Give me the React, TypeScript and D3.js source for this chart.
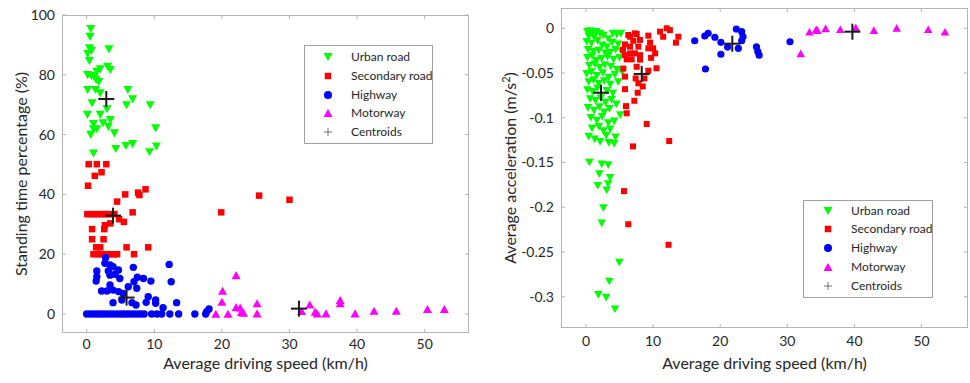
import React from "react";
import * as d3 from "d3";

type Pt = [number, number];

// Standing time percentage (%) vs average driving speed (km/h)
const urbanStanding: Pt[] = [
  [0.6, 95.3], [0.5, 92.7], [0.4, 88.9], [0.7, 88], [3.3, 88.5], [0.15, 86.9], [0.4, 84.6],
  [3.1, 82.7], [3.5, 81.6], [2.0, 81.8], [1.5, 81], [0.15, 79.9], [0.7, 79.6], [1.1, 79.2],
  [1.4, 78.3], [1.8, 77.6], [0.15, 74.9], [1.3, 74.9], [2.0, 73.8], [6.1, 74.9], [6.8, 71.8],
  [0.8, 70.5], [5.9, 69.8], [9.4, 69.8], [3.0, 68.5], [0.1, 66.6], [2.0, 66.6], [3.5, 64.9],
  [1.0, 63.5], [2.4, 63.8], [3.2, 62.6], [1.5, 61.8], [1.0, 61.8], [4.1, 60.4], [0.6, 59.9],
  [10.2, 62.1], [4.3, 55.2], [5.8, 56.2], [6.8, 56.8], [9.3, 54.1], [10.3, 56], [1.0, 53.7],
];
const secondaryStanding: Pt[] = [
  [0.3, 50.1], [1.5, 50.1], [2.9, 50.1], [1.2, 46.2], [2.2, 47.4], [0.2, 42.9], [5.7, 40.0],
  [7.6, 40.6], [7.8, 39.8], [8.7, 41.7], [4.5, 37.6],
  [0.1, 33.4], [0.6, 33.4], [1.1, 33.4], [1.6, 33.4], [2.1, 33.4], [2.6, 33.4], [3.1, 33.4],
  [3.6, 33.4], [4.1, 33.4],
  [6.8, 34.0], [4.8, 31.7], [5.5, 30.8], [3.5, 30.3], [2.7, 29.7], [2.6, 28.4], [0.8, 28.4],
  [0.8, 25.0], [2.5, 25.0], [1.4, 22.3], [2.0, 22.3], [5.9, 22.3], [9.1, 22.3],
  [1.0, 20], [1.5, 20], [2.0, 20], [2.5, 20], [3.0, 20], [3.5, 20], [4.0, 20], [4.5, 20], [7.0, 20.0],
  [19.9, 34.0], [25.5, 39.6], [30.0, 38.2],
];
const highwayStanding: Pt[] = [
  [0, 0], [0.5, 0], [1, 0], [1.5, 0], [2, 0], [2.5, 0], [3, 0], [3.5, 0], [4, 0], [4.5, 0],
  [5, 0], [5.5, 0], [6, 0], [6.5, 0], [7, 0], [7.5, 0], [8, 0], [8.5, 0], [9.6, 0], [10.4, 0],
  [11.1, 0], [12.3, 0], [13.6, 0], [16.0, 0], [17.6, 0], [17.75, 0.8], [18.1, 1.7],
  [2.8, 18.8], [2.7, 17.0], [3.45, 16.4], [3.9, 15.8], [1.5, 14.4], [3.2, 14.4], [4.7, 14.7],
  [6.9, 15.6], [12.2, 16.6], [3.45, 13.0], [4.2, 13.3], [1.5, 12.5], [4.9, 11.9], [7.5, 12.3],
  [8.4, 11.9], [1.4, 11.0], [7.0, 10.8], [9.5, 11.0], [12.5, 10.8], [3.45, 9.7], [7.4, 8.6],
  [2.2, 7.7], [3.0, 7.7], [3.9, 8.0], [4.7, 7.5], [6.15, 9.1], [3.9, 3.8], [5.2, 4.7],
  [6.7, 3.8], [7.3, 3.0], [8.8, 3.9], [9.1, 5.8], [10.2, 4.7], [10.2, 3.6], [11.3, 2.1],
  [13.3, 3.8], [5.4, 6.9],
];
const motorwayStanding: Pt[] = [
  [22.1, 13.0], [20.1, 7.8], [20.0, 4.1], [19.1, 0.1], [20.9, 0.1], [22.1, 2.3], [22.7, 2.2],
  [22.9, 0.7], [23.2, 0.4], [25.2, 3.6], [25.2, 0.2], [31.8, 1.0], [33.0, 3.2], [33.8, 0.8],
  [34.1, 0.2], [35.4, 0.2], [37.5, 4.7], [37.5, 3.6], [39.7, 0.2], [42.5, 1.1], [45.8, 1.1],
  [50.4, 1.7], [52.9, 1.7],
];
const centroidsStanding: Pt[] = [[2.9, 71.9], [3.9, 32.9], [5.9, 5.5], [31.4, 1.8]];

// Average acceleration (m/s^2) vs average driving speed (km/h)
const urbanAccel: Pt[] = [
  [0.2, -0.004], [0.6, -0.003], [1.0, -0.005], [1.5, -0.004], [2.1, -0.006], [0.4, -0.009],
  [1.2, -0.010], [2.6, -0.008], [3.3, -0.012], [4.0, -0.006], [4.6, -0.007], [5.2, -0.006],
  [0.1, -0.015], [0.8, -0.017], [1.7, -0.014], [2.4, -0.019], [3.1, -0.021], [3.9, -0.016],
  [4.8, -0.018], [0.3, -0.024], [1.1, -0.026], [1.9, -0.025], [2.9, -0.028], [3.6, -0.027],
  [4.4, -0.024], [5.3, -0.026], [0.2, -0.033], [0.9, -0.031], [1.5, -0.036], [2.3, -0.034],
  [3.2, -0.032], [4.1, -0.035], [5.0, -0.033], [0.5, -0.042], [1.3, -0.040], [2.0, -0.044],
  [2.8, -0.041], [3.7, -0.043], [4.6, -0.046], [0.1, -0.051], [0.8, -0.049], [1.6, -0.053],
  [2.5, -0.050], [3.4, -0.055], [4.3, -0.052], [5.4, -0.049], [0.4, -0.060], [1.1, -0.058],
  [1.9, -0.062], [2.7, -0.059], [3.6, -0.063], [4.8, -0.060], [0.2, -0.069], [1.0, -0.071],
  [1.7, -0.067], [3.1, -0.070], [4.0, -0.073], [0.6, -0.079], [1.4, -0.081], [2.2, -0.078],
  [2.9, -0.083], [3.8, -0.080], [4.5, -0.085], [0.3, -0.089], [1.2, -0.092], [2.0, -0.088],
  [2.7, -0.094], [3.5, -0.090], [5.1, -0.097], [0.7, -0.100], [1.6, -0.103], [2.4, -0.099],
  [3.3, -0.106], [4.2, -0.104], [0.9, -0.112], [1.9, -0.110], [2.6, -0.115], [3.6, -0.113],
  [0.4, -0.121], [1.3, -0.124], [2.1, -0.127], [3.0, -0.120], [3.4, -0.128], [4.4, -0.122],
  [4.2, -0.129],
  [0.5, -0.150], [2.33, -0.152], [3.3, -0.153], [1.98, -0.163], [3.58, -0.167], [1.74, -0.176],
  [3.3, -0.174], [3.08, -0.181], [2.58, -0.201], [2.34, -0.218], [4.96, -0.262], [3.47, -0.283],
  [1.83, -0.298], [3.0, -0.301], [4.32, -0.314],
];
const secondaryAccel: Pt[] = [
  [6.56, -0.0094], [7.55, -0.0064], [7.05, -0.0139], [8.05, -0.013], [9.29, -0.0082],
  [9.54, -0.016], [11.03, -0.0037], [12.03, 0.0], [12.5, -0.002], [11.5, -0.0094],
  [13.76, -0.0094], [13.4, -0.016], [6.56, -0.0205], [7.8, -0.0205], [5.81, -0.030],
  [6.56, -0.028], [7.3, -0.028], [8.05, -0.030], [9.29, -0.0224], [10.0, -0.0224],
  [10.3, -0.028], [9.7, -0.033], [6.8, -0.0347], [6.06, -0.0347], [10.5, -0.0447],
  [5.56, -0.045], [7.55, -0.043], [9.29, -0.0474], [5.81, -0.054], [7.4, -0.056],
  [8.7, -0.056], [7.8, -0.0615], [8.45, -0.065], [5.81, -0.068], [7.7, -0.072],
  [7.2, -0.081], [5.96, -0.087], [6.06, -0.095], [9.04, -0.107], [7.0, -0.132],
  [12.4, -0.126], [5.66, -0.182], [6.3, -0.219], [12.3, -0.242], [6.3, -0.0075],
  [7.3, -0.0056], [8.05, -0.035], [5.5, -0.024], [5.8, -0.018],
];
const highwayAccel: Pt[] = [
  [16.2, -0.0139], [17.7, -0.0086], [18.2, -0.0056], [17.8, -0.0455], [19.2, -0.010],
  [20.1, -0.0157], [20.1, -0.029], [21.1, -0.021], [22.4, -0.0008], [23.2, -0.0038],
  [23.4, -0.0094], [23.2, -0.0139], [22.7, -0.0224], [25.4, -0.0206], [25.6, -0.026],
  [25.8, -0.030], [30.4, -0.015],
];
const motorwayAccel: Pt[] = [
  [33.3, -0.0038], [34.3, -0.0011], [34.5, -0.002], [35.7, 0], [37.9, -0.0011],
  [40.2, 0.0011], [42.9, -0.002], [46.3, 0.0004], [51.0, -0.001], [53.5, -0.0038],
  [32.0, -0.028],
];
const centroidsAccel: Pt[] = [[2.24, -0.072], [8.3, -0.051], [21.8, -0.0172], [39.7, -0.0038]];

const speedTicks = [0, 10, 20, 30, 40, 50];
const standingTicks = [0, 20, 40, 60, 80, 100];
const accelTicks = [0, -0.05, -0.1, -0.15, -0.2, -0.25, -0.3];
const legendLabels = ["Urban road", "Secondary road", "Highway", "Motorway", "Centroids"];

const FONT = "Lato, 'Open Sans', sans-serif";
const GREEN = "#00ff00";
const RED = "#ff0000";
const BLUE = "#0000ff";
const MAGENTA = "#ff00ff";
const BOX = "#b4b4b4";
const TEXT = "#262626";

type MarkSize = { tri: number; sq: number; r: number };

function triDown(x: number, y: number, w: number) {
  const h = w * 0.9;
  return `M${x - w / 2},${y - h / 2}L${x + w / 2},${y - h / 2}L${x},${y + h / 2}Z`;
}
function triUp(x: number, y: number, w: number) {
  const h = w * 0.9;
  return `M${x - w / 2},${y + h / 2}L${x + w / 2},${y + h / 2}L${x},${y - h / 2}Z`;
}

function Marker({ kind, x, y, s }: { kind: number; x: number; y: number; s: MarkSize }) {
  if (kind === 0) return <path d={triDown(x, y, s.tri)} fill={GREEN} />;
  if (kind === 1) return <rect x={x - s.sq / 2} y={y - s.sq / 2} width={s.sq} height={s.sq} fill={RED} />;
  if (kind === 2) return <circle cx={x} cy={y} r={s.r} fill={BLUE} />;
  return <path d={triUp(x, y, s.tri)} fill={MAGENTA} />;
}

type PanelProps = {
  left: number;
  right: number;
  top: number;
  bottom: number;
  xDomain: [number, number];
  yDomain: [number, number];
  yTicks: number[];
  yFmt: (v: number) => string;
  series: Pt[][];
  centroids: Pt[];
  size: MarkSize;
  legend: { x: number; y: number; w: number; h: number; rows: number[]; mx: number; tx: number };
  xTickY: number;
  xLabelY: number;
  yLabelX: number;
  yLabel: React.ReactNode;
};

function Panel(p: PanelProps) {
  const x = d3.scaleLinear().domain(p.xDomain).range([p.left, p.right]);
  const y = d3.scaleLinear().domain(p.yDomain).range([p.bottom, p.top]);
  const tl = 4;
  const plotMid = (p.left + p.right) / 2;
  const yMid = (p.top + p.bottom) / 2;
  const cross = 8;
  return (
    <g>
      <rect x={p.left} y={p.top} width={p.right - p.left} height={p.bottom - p.top} fill="#fff" />
      {/* ticks on all four sides, pointing inward */}
      {speedTicks.map((t) => (
        <g key={"xt" + t} stroke={BOX}>
          <line x1={x(t)} x2={x(t)} y1={p.bottom} y2={p.bottom - tl} />
          <line x1={x(t)} x2={x(t)} y1={p.top} y2={p.top + tl} />
        </g>
      ))}
      {p.yTicks.map((t) => (
        <g key={"yt" + t} stroke={BOX}>
          <line x1={p.left} x2={p.left + tl} y1={y(t)} y2={y(t)} />
          <line x1={p.right} x2={p.right - tl} y1={y(t)} y2={y(t)} />
        </g>
      ))}
      {p.series.map((pts, k) =>
        pts.map((d, i) => <Marker key={k + "-" + i} kind={k} x={x(d[0])} y={y(d[1])} s={p.size} />)
      )}
      {p.centroids.map((d, i) => (
        <g key={"c" + i} stroke="#1a1a1a" strokeWidth={2}>
          <line x1={x(d[0]) - cross} x2={x(d[0]) + cross} y1={y(d[1])} y2={y(d[1])} />
          <line x1={x(d[0])} x2={x(d[0])} y1={y(d[1]) - cross} y2={y(d[1]) + cross} />
        </g>
      ))}
      <rect
        x={p.left + 0.5}
        y={p.top + 0.5}
        width={p.right - p.left - 1}
        height={p.bottom - p.top - 1}
        fill="none"
        stroke={BOX}
      />
      {speedTicks.map((t) => (
        <text key={"xl" + t} x={x(t)} y={p.xTickY} textAnchor="middle" fontSize={14} fill={TEXT}>
          {t}
        </text>
      ))}
      {p.yTicks.map((t) => (
        <text key={"yl" + t} x={p.left - 7} y={y(t) + 5} textAnchor="end" fontSize={14} fill={TEXT}>
          {p.yFmt(t)}
        </text>
      ))}
      <text x={plotMid} y={p.xLabelY} textAnchor="middle" fontSize={16} fill={TEXT}>
        Average driving speed (km/h)
      </text>
      <text
        transform={`translate(${p.yLabelX},${yMid}) rotate(-90)`}
        textAnchor="middle"
        fontSize={16}
        fill={TEXT}
      >
        {p.yLabel}
      </text>
      {/* legend */}
      <rect
        x={p.legend.x + 0.5}
        y={p.legend.y + 0.5}
        width={p.legend.w}
        height={p.legend.h}
        fill="#fff"
        stroke="#a0a0a0"
      />
      {legendLabels.map((lab, i) => {
        const ry = p.legend.rows[i];
        return (
          <g key={"lg" + i}>
            {i < 4 ? (
              <Marker kind={i} x={p.legend.mx} y={ry} s={{ tri: 9, sq: 6.5, r: 4 }} />
            ) : (
              <g stroke="#555" strokeWidth={0.8}>
                <line x1={p.legend.mx - 4} x2={p.legend.mx + 4} y1={ry} y2={ry} />
                <line x1={p.legend.mx} x2={p.legend.mx} y1={ry - 4} y2={ry + 4} />
              </g>
            )}
            <text x={p.legend.tx} y={ry + 4} fontSize={12} fill={TEXT}>
              {lab}
            </text>
          </g>
        );
      })}
    </g>
  );
}

export default function App() {
  return (
    <svg
      width={970}
      height={383}
      viewBox="0 0 970 383"
      style={{ position: "absolute", left: 0, top: 0, fontFamily: FONT, background: "#fff" }}
    >
      <rect x={0} y={0} width={970} height={383} fill="#fff" />
      <Panel
        left={62}
        right={469}
        top={15}
        bottom={333}
        xDomain={[-3.65, 56.55]}
        yDomain={[-6.35, 100]}
        yTicks={standingTicks}
        yFmt={(v) => String(v)}
        series={[urbanStanding, secondaryStanding, highwayStanding, motorwayStanding]}
        centroids={centroidsStanding}
        size={{ tri: 9, sq: 6.5, r: 3.7 }}
        legend={{ x: 304, y: 45, w: 128, h: 98, rows: [57, 76, 95, 113, 132], mx: 328, tx: 351 }}
        xTickY={349}
        xLabelY={369}
        yLabelX={27}
        yLabel={"Standing time percentage (%)"}
      />
      <Panel
        left={561}
        right={968}
        top={8}
        bottom={328}
        xDomain={[-3.73, 56.93]}
        yDomain={[-0.335, 0.0227]}
        yTicks={accelTicks}
        yFmt={(v) => (v === 0 ? "0" : String(v))}
        series={[urbanAccel, secondaryAccel, highwayAccel, motorwayAccel]}
        centroids={centroidsAccel}
        size={{ tri: 8.5, sq: 6, r: 3.6 }}
        legend={{ x: 803, y: 200, w: 129, h: 97, rows: [211, 229, 248, 267, 286], mx: 828, tx: 851 }}
        xTickY={346}
        xLabelY={369}
        yLabelX={516}
        yLabel={
          <>
            Average acceleration (m/s
            <tspan dy={-6} fontSize={11}>
              2
            </tspan>
            <tspan dy={6}>)</tspan>
          </>
        }
      />
    </svg>
  );
}
